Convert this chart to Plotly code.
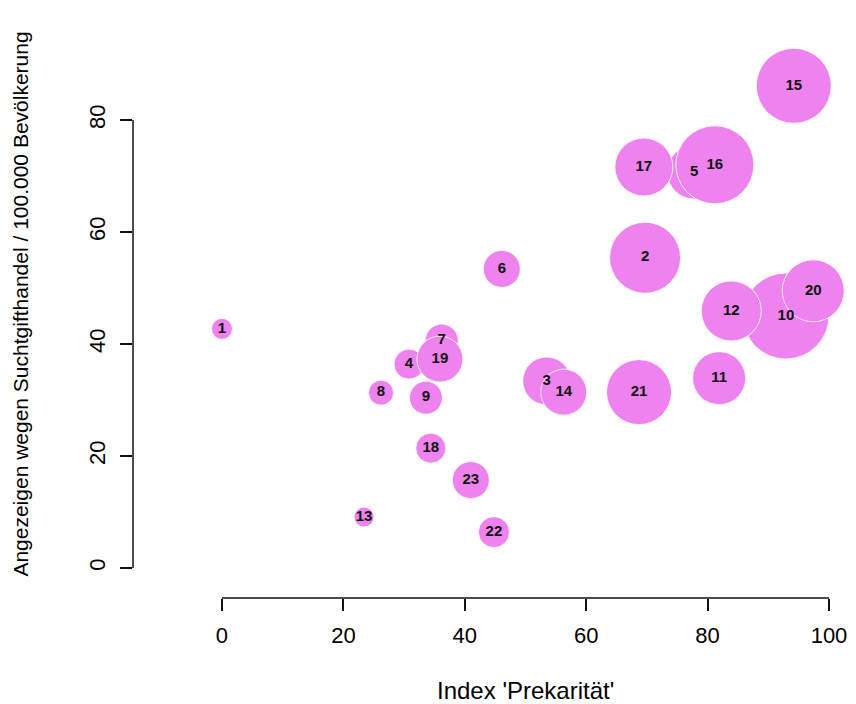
import plotly.graph_objects as go

# Data
ids = [str(i) for i in range(1, 24)]
prekaritaet = [0.0, 69.7, 53.5, 30.8, 77.8, 46.1, 36.2, 26.2, 33.6, 92.9,
               81.9, 83.9, 23.4, 56.3, 94.2, 81.2, 69.5, 34.4, 35.9, 97.4,
               68.7, 44.8, 41.0]
anzeigen = [42.7, 55.4, 33.4, 36.4, 70.7, 53.4, 40.6, 31.3, 30.4, 45.0,
            33.9, 45.9, 9.1, 31.4, 86.1, 72.0, 71.6, 21.4, 37.3, 49.5,
            31.4, 6.4, 15.7]
kreisgroesse = [2.1, 7.1, 4.8, 3.0, 5.4, 3.7, 3.3, 2.5, 3.3, 8.6,
                5.3, 6.0, 2.0, 4.6, 7.5, 7.8, 5.8, 3.0, 4.6, 6.2,
                6.5, 3.1, 3.7]
x_ticks = [0, 20, 40, 60, 80, 100]
y_ticks = [0, 20, 40, 60, 80]

x_title = "Index 'Prekarität'"
y_title = "Angezeigen wegen Suchtgifthandel / 100.000 Bevölkerung"

FONT = "Liberation Sans, Arial, sans-serif"

fig = go.Figure()
fig.add_trace(go.Scatter(
    x=prekaritaet, y=anzeigen, text=ids,
    mode="markers+text",
    textposition="middle center",
    textfont=dict(family=FONT, size=15, color="#111", weight="bold"),
    marker=dict(size=kreisgroesse, sizemode="diameter", sizeref=0.1,
                color="#EE82EE", opacity=1,
                line=dict(color="rgba(255,255,255,0.85)", width=1)),
    cliponaxis=False,
    hoverinfo="skip",
    showlegend=False,
))

# detached R-style axis lines spanning the tick range
fig.add_shape(type="line", xref="x", yref="paper",
              x0=min(x_ticks), x1=max(x_ticks), y0=0, y1=0,
              line=dict(color="#111", width=1.5))
fig.add_shape(type="line", xref="paper", yref="y",
              x0=0, x1=0, y0=min(y_ticks), y1=max(y_ticks),
              line=dict(color="#111", width=1.5))

# x-axis title centred on the tick range, as in the reference
fig.add_annotation(text=x_title, xref="x", yref="paper",
                   x=(min(x_ticks) + max(x_ticks)) / 2, y=0,
                   yshift=-92, yanchor="middle", showarrow=False,
                   font=dict(family=FONT, size=24, color="#000"))

# page body adds an 8px offset, so the figure is 8px smaller on each side
fig.update_layout(
    width=848, height=696,
    margin=dict(l=125, r=6, t=2, b=106, autoexpand=False),
    paper_bgcolor="white", plot_bgcolor="white",
    font=dict(family=FONT, color="#000"),
    xaxis=dict(range=[-14.66, 103.46], tickvals=x_ticks, ticks="outside",
               ticklen=12, tickwidth=1.5, tickcolor="#111",
               showline=False, showgrid=False, zeroline=False,
               automargin=False,
               tickfont=dict(size=22, color="#000"), ticklabelstandoff=6),
    yaxis=dict(range=[-5.36, 99.64], tickvals=y_ticks, ticks="outside",
               ticklen=12, tickwidth=1.5, tickcolor="#111",
               showline=False, showgrid=False, zeroline=False,
               automargin=False,
               tickangle=-90, tickfont=dict(size=22, color="#000"),
               ticklabelstandoff=6,
               title=dict(text=y_title, font=dict(size=21, color="#000"),
                          standoff=50)),
)

fig.write_html("out.html")
